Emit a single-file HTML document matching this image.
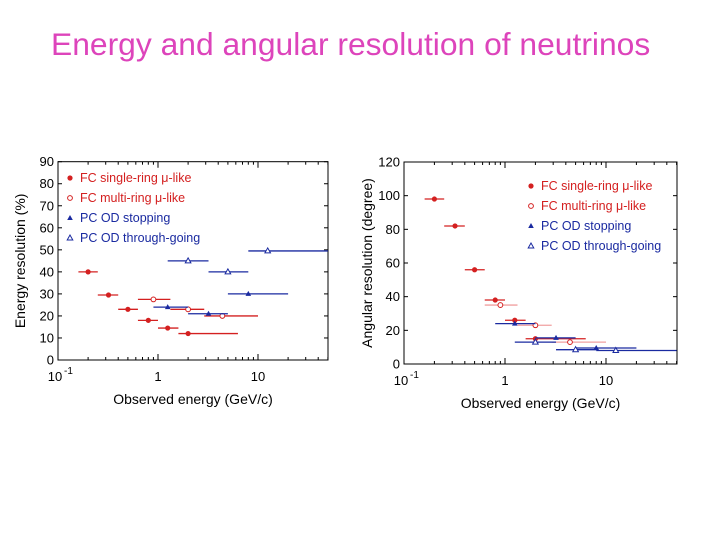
<!DOCTYPE html>
<html><head><meta charset="utf-8"><style>
body{margin:0;background:#fff;width:720px;height:540px;overflow:hidden;font-family:"Liberation Sans",Arial,sans-serif}
#title{position:absolute;left:51px;top:26px;font-size:31.8px;color:#dd44bb;white-space:nowrap}
svg{position:absolute;left:0;top:0}
</style></head><body>
<div id="title">Energy and angular resolution of neutrinos</div>
<svg id="svg" width="720" height="540"></svg>
<script>
// Left chart data: energy resolution (%)
const L_fcs_x=[0.2,0.32,0.5,0.8,1.25,2], L_fcs_y=[40,29.5,23,18,14.5,12], L_fcs_lo=[0.16,0.25,0.4,0.63,1.0,1.6], L_fcs_hi=[0.25,0.4,0.63,1.0,1.6,6.3];
const L_fcm_x=[0.9,2,4.4], L_fcm_y=[27.5,23,20], L_fcm_lo=[0.63,1.33,2.9], L_fcm_hi=[1.33,2.9,10];
const L_pcs_x=[1.25,3.2,8], L_pcs_y=[24,21,30], L_pcs_lo=[0.9,2,5], L_pcs_hi=[2,5,20];
const L_pct_x=[2,5,12.5], L_pct_y=[45,40,49.5], L_pct_lo=[1.25,3.2,8], L_pct_hi=[3.2,8,50];
const L_yticks=[0,10,20,30,40,50,60,70,80,90];
// Right chart data: angular resolution (degree)
const R_fcs_x=[0.2,0.32,0.5,0.8,1.25,2], R_fcs_y=[98,82,56,38,26,15], R_fcs_lo=[0.16,0.25,0.4,0.63,1.0,1.6], R_fcs_hi=[0.25,0.4,0.63,1.0,1.6,6.3];
const R_fcm_x=[0.9,2,4.4], R_fcm_y=[35,23,13], R_fcm_lo=[0.63,1.33,2.9], R_fcm_hi=[1.33,2.9,10];
const R_pcs_x=[1.25,3.2,8], R_pcs_y=[24,15.5,9.5], R_pcs_lo=[0.8,2,5], R_pcs_hi=[2,5,20];
const R_pct_x=[2,5,12.5], R_pct_y=[13,8.5,8], R_pct_lo=[1.25,3.2,8], R_pct_hi=[3.2,8,50];
const R_yticks=[0,20,40,60,80,100,120];
const legendLabels=["FC single-ring μ-like","FC multi-ring μ-like","PC OD stopping","PC OD through-going"];

const NS="http://www.w3.org/2000/svg", svg=document.getElementById('svg');
function mk(tag,attrs,parent){const e=document.createElementNS(NS,tag);for(const k in attrs)e.setAttribute(k,attrs[k]);(parent||svg).appendChild(e);return e;}
const RED="#d42020", LRED="#f0a0a0", BLUE="#1a2aa0";

function marker(g,type,x,y,col){
  let m;
  if(type==0) m=mk('circle',{cx:x,cy:y,r:2.6,fill:col},g);
  else if(type==1) m=mk('circle',{cx:x,cy:y,r:2.4,fill:'#fff',stroke:col,'stroke-width':1},g);
  else if(type==2) m=mk('polygon',{points:`${x},${y-3} ${x-2.8},${y+2} ${x+2.8},${y+2}`,fill:col},g);
  else m=mk('polygon',{points:`${x},${y-3} ${x-2.8},${y+2} ${x+2.8},${y+2}`,fill:'#fff',stroke:col,'stroke-width':1},g);
  return m;
}

function chart(o){
  const g=mk('g',{});
  
  
  const xs=v=>o.x0+(Math.log10(v)+1)*o.dec, ys=v=>o.yb-(v/o.ymax)*(o.yb-o.yt);
  const f=mk('rect',{x:o.x0,y:o.yt,width:o.x1-o.x0,height:o.yb-o.yt,fill:'none',stroke:'#000','stroke-width':1},g);
  
  
  o.yticks.forEach(v=>{
    const y=ys(v);
    mk('line',{x1:o.x0,x2:o.x0+4,y1:y,y2:y,stroke:'#000'},g);
    mk('line',{x1:o.x1,x2:o.x1-4,y1:y,y2:y,stroke:'#000'},g);
    const t=mk('text',{x:o.x0-4,y:y+4.5,'text-anchor':'end','font-size':13,fill:'#000'},g);t.textContent=v;
    
    
  });
  for(let d=-1;d<=1;d++)for(let k=1;k<10;k++){
    const v=k*Math.pow(10,d);const x=xs(v);if(x>o.x1)continue;
    const len=k==1?6:3;
    mk('line',{x1:x,x2:x,y1:o.yb,y2:o.yb-len,stroke:'#000'},g);
    mk('line',{x1:x,x2:x,y1:o.yt,y2:o.yt+len,stroke:'#000'},g);
  }
  [["10",-1],["1",0],["10",1]].forEach(([s,d],i)=>{
    const t=mk('text',{x:xs(Math.pow(10,d))+(i==0?-3:0),y:o.yb+21,'text-anchor':'middle','font-size':13},g);t.textContent=s;
    
    
    if(i==0){const sp=mk('text',{x:xs(0.1)+6,y:o.yb+14,'font-size':10},g);sp.textContent='-1';}
  });
  const xt=mk('text',{x:(o.x0+o.x1)/2+ (o.xtoff||0),y:o.yb+44,'text-anchor':'middle','font-size':14},g);xt.textContent='Observed energy (GeV/c)';
  
  
  const yt=mk('text',{x:0,y:0,'text-anchor':'middle','font-size':14,transform:`translate(${o.ytx},${(o.yt+o.yb)/2}) rotate(-90)`},g);yt.textContent=o.ytitle;
  
  
  o.series.forEach((s,si)=>{
    const col=si<2?RED:BLUE, ecol=(si==1&&o.lightMulti)?LRED:col;
    s.x.forEach((v,i)=>{
      const l=mk('line',{x1:xs(s.lo[i]),x2:Math.min(xs(s.hi[i]),o.x1),y1:ys(s.y[i]),y2:ys(s.y[i]),stroke:ecol,'stroke-width':1.3},g);
      
      
      const m=marker(g,si,xs(v),ys(s.y[i]),col);
      
      
    });
    const ly=o.ly+si*20;
    const lm=marker(g,si,o.lx,ly-4,col);
    
    
    const lt=mk('text',{x:o.lx+10,y:ly,'font-size':12.5,fill:col},g);lt.textContent=legendLabels[si];
    
    
  });
}
chart({name:'energy-resolution-chart',x0:58,x1:328,yt:161.7,yb:360,dec:100,ymax:90,yticks:L_yticks,ytitle:'Energy resolution (%)',ytx:25,lx:70,ly:182,lightMulti:false,
 series:[{x:L_fcs_x,y:L_fcs_y,lo:L_fcs_lo,hi:L_fcs_hi},{x:L_fcm_x,y:L_fcm_y,lo:L_fcm_lo,hi:L_fcm_hi},{x:L_pcs_x,y:L_pcs_y,lo:L_pcs_lo,hi:L_pcs_hi},{x:L_pct_x,y:L_pct_y,lo:L_pct_lo,hi:L_pct_hi}]});
chart({name:'angular-resolution-chart',x0:404,x1:677,yt:162,yb:364,dec:101,ymax:120,yticks:R_yticks,ytitle:'Angular resolution (degree)',ytx:372,lx:531,ly:190,lightMulti:true,
 series:[{x:R_fcs_x,y:R_fcs_y,lo:R_fcs_lo,hi:R_fcs_hi},{x:R_fcm_x,y:R_fcm_y,lo:R_fcm_lo,hi:R_fcm_hi},{x:R_pcs_x,y:R_pcs_y,lo:R_pcs_lo,hi:R_pcs_hi},{x:R_pct_x,y:R_pct_y,lo:R_pct_lo,hi:R_pct_hi}]});
</script>
</body></html>
